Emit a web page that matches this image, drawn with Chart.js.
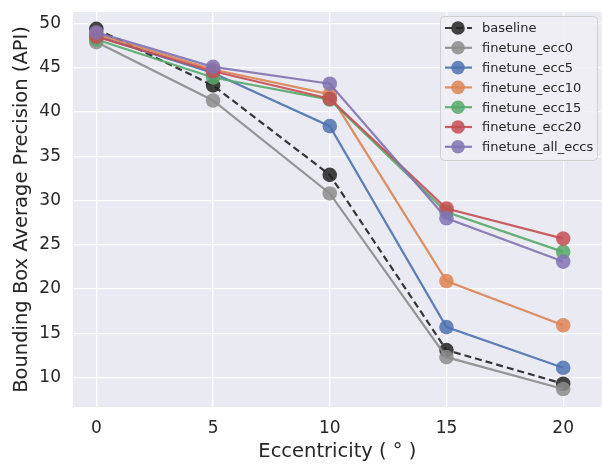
<!DOCTYPE html>
<html lang="en">

<head>
  <meta charset="UTF-8" />
  <script src="https://cdn.jsdelivr.net/npm/chart.js"></script>
  <title>AP vs eccentricity</title>
  <style>
    html, body { margin: 0; padding: 0; background: #ffffff; overflow: hidden; }
    /* a little wider than the window: the plot area runs to the right edge like the original crop */
    #box { width: 609px; height: 464px; }
  </style>
</head>

<body>
  <div id="box"><canvas id="apChart"></canvas></div>

  <script>
    // eccentricity values (degrees)
    const eccs = [0, 5, 10, 15, 20];
    const xTicks = [0, 5, 10, 15, 20];
    const yTicks = [10, 15, 20, 25, 30, 35, 40, 45, 50];

    const seriesNames = ["baseline", "finetune_ecc0", "finetune_ecc5", "finetune_ecc10",
      "finetune_ecc15", "finetune_ecc20", "finetune_all_eccs"];

    const baseline = [49.4, 43.0, 32.9, 13.1, 9.3];
    const ecc0 = [47.9, 41.3, 30.8, 12.3, 8.7];
    const ecc5 = [48.6, 44.4, 38.4, 15.7, 11.1];
    const ecc10 = [48.8, 44.8, 42.0, 20.9, 15.9];
    const ecc15 = [48.2, 43.9, 41.4, 28.7, 24.2];
    const ecc20 = [48.5, 44.6, 41.5, 29.1, 25.7];
    const allEccs = [49.0, 45.1, 43.2, 28.0, 23.1];

    const colors = ["#222222", "#8c8c8c", "#4c72b0", "#dd8452", "#55a868", "#c44e52", "#8172b3"];
    const values = [baseline, ecc0, ecc5, ecc10, ecc15, ecc20, allEccs];

    function alpha(hex, a) {
      let r = parseInt(hex.slice(1, 3), 16), g = parseInt(hex.slice(3, 5), 16), b = parseInt(hex.slice(5, 7), 16);
      return `rgba(${r},${g},${b},${a})`;
    }

    let datasets = [];
    for (let i = 0; i < values.length; i++) {
      datasets.push({
        label: seriesNames[i],
        data: eccs.map((x, j) => ({ x: x, y: values[i][j] })),
        borderColor: alpha(colors[i], 0.9),
        backgroundColor: alpha(colors[i], 0.85),
        pointBorderColor: alpha(colors[i], 0.0),
        borderWidth: 2.2,
        borderDash: i == 0 ? [7, 4] : [],
        pointRadius: 7.3,
        pointHoverRadius: 7.3,
        pointBorderWidth: 0,
        tension: 0,
        order: values.length - i,
      });
    }

    // legend drawn inside the plot, upper right, with line + marker handles
    const legendInside = {
      id: "legendInside",
      afterDraw(chart) {
        const ctx = chart.ctx;
        const x0 = 440, y0 = 16, w = 157, h = 144;
        ctx.save();
        ctx.fillStyle = "rgba(238,238,245,0.85)";
        ctx.strokeStyle = "#d0d0d0";
        ctx.lineWidth = 1;
        ctx.beginPath();
        ctx.roundRect(x0 + 0.5, y0 + 0.5, w, h, 4);
        ctx.fill();
        ctx.stroke();
        ctx.font = "13px 'DejaVu Sans'";
        ctx.textBaseline = "middle";
        chart.data.datasets.forEach((ds, i) => {
          const cy = 28 + i * 19.8;
          ctx.strokeStyle = ds.borderColor;
          ctx.lineWidth = 2.2;
          ctx.setLineDash(ds.borderDash);
          ctx.beginPath();
          ctx.moveTo(445, cy);
          ctx.lineTo(472, cy);
          ctx.stroke();
          ctx.setLineDash([]);
          ctx.fillStyle = ds.backgroundColor;
          ctx.beginPath();
          ctx.arc(458, cy, 6.8, 0, Math.PI * 2);
          ctx.fill();
          ctx.fillStyle = "#262626";
          ctx.fillText(ds.label, 482, cy + 1);
        });
        ctx.restore();
      }
    };

    const plotBg = {
      id: "plotBg",
      beforeDraw(chart) {
        const a = chart.chartArea;
        chart.ctx.save();
        chart.ctx.fillStyle = "#eaeaf2";
        chart.ctx.fillRect(a.left, a.top, a.right - a.left, a.bottom - a.top);
        chart.ctx.restore();
      }
    };

    const config = {
      type: "line",
      data: { datasets: datasets },
      options: {
        responsive: true,
        maintainAspectRatio: false,
        animation: false,
        layout: { padding: { top: 12, right: 0, left: 0, bottom: 0 } },
        scales: {
          x: {
            type: "linear",
            min: -1,
            max: 21.65,
            afterBuildTicks: (s) => { s.ticks = xTicks.map(v => ({ value: v })); },
            afterFit: (s) => { s.height = 57; s.paddingLeft = 0; s.paddingRight = 0; },
            grid: { color: "#ffffff", lineWidth: 1.3, drawTicks: false },
            border: { display: false },
            ticks: { color: "#262626", font: { family: "DejaVu Sans", size: 17 }, padding: 11 },
            title: {
              display: true,
              text: "Eccentricity ( ° )",
              color: "#262626",
              font: { family: "DejaVu Sans", size: 19.5 },
              padding: { top: 0, bottom: 0 },
            },
          },
          y: {
            min: 6.67,
            max: 51.3,
            afterBuildTicks: (s) => { s.ticks = yTicks.map(v => ({ value: v })); },
            afterFit: (s) => { s.width = 73; s.paddingTop = 0; s.paddingBottom = 0; },
            grid: { color: "#ffffff", lineWidth: 1.3, drawTicks: false },
            border: { display: false },
            ticks: { color: "#262626", font: { family: "DejaVu Sans", size: 17 }, padding: 12 },
            title: {
              display: true,
              text: "Bounding Box Average Precision (API)",
              color: "#262626",
              font: { family: "DejaVu Sans", size: 19.5 },
              padding: { top: 10, bottom: 0 },
            },
          },
        },
        plugins: {
          legend: { display: false },
          tooltip: { enabled: false },
        },
      },
      plugins: [plotBg, legendInside],
    };

    let myChart = new Chart(document.getElementById("apChart").getContext("2d"), config);
  </script>
</body>

</html>
